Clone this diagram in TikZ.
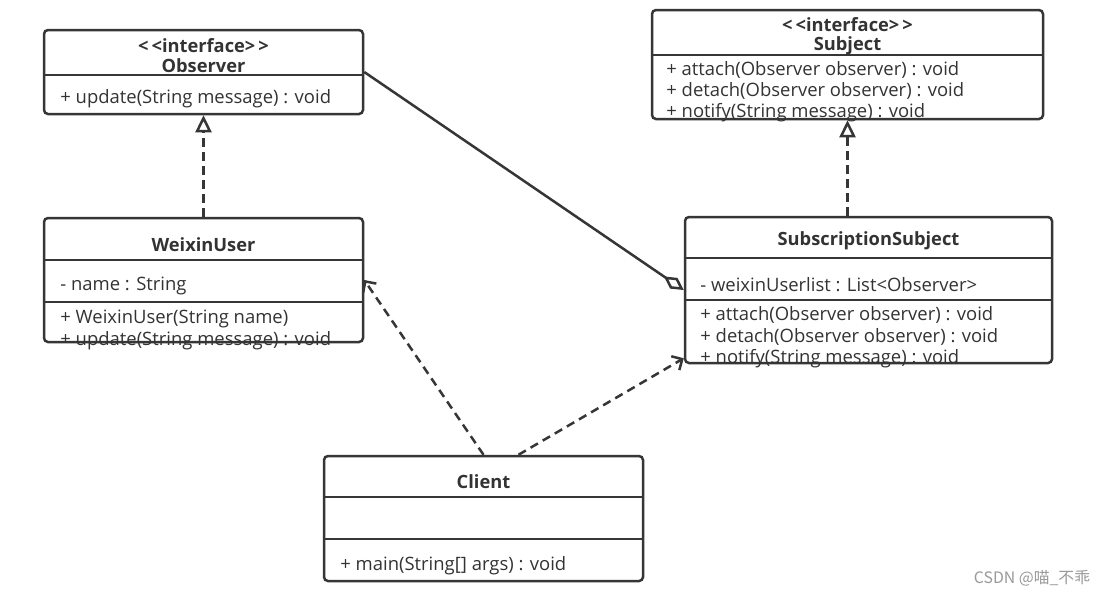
\documentclass[tikz,border=0pt]{standalone}
\usepackage{fontspec}
\setmainfont{Open Sans}
\newfontfamily\cjkfont{Noto Sans CJK SC}
\usetikzlibrary{arrows.meta}
\usetikzlibrary{fit}
\definecolor{umlink}{HTML}{363636}
\definecolor{umltext}{HTML}{333333}
\definecolor{markgray}{HTML}{9A9A9A}

\begin{document}
\begin{tikzpicture}[x=0.2mm, y=-0.2mm,
    umlbox/.style={draw=umlink, line width=0.5mm, rounded corners=0.8mm, inner sep=0pt},
    umlline/.style={draw=umlink, line width=0.5mm},
    title/.style={text=umltext, font=\fontsize{10.4}{12}\selectfont\bfseries, inner sep=0pt, yshift=-0.5mm},
    member/.style={text=umltext, font=\fontsize{10.5}{12}\selectfont, anchor=west, inner sep=0pt, yshift=-0.5mm},
    realize/.style={umlline, dash pattern=on 1.7mm off 1.1mm, -{Triangle[open, length=3.4mm, width=3.2mm]}},
    depend/.style={umlline, dash pattern=on 1.7mm off 1.1mm, -{Straight Barb[length=1.6mm, width=3.2mm]}},
    aggreg/.style={umlline, -{Diamond[open, length=4.8mm, width=2.6mm]}}]

    \useasboundingbox[fill=white] (0,0) rectangle (1106,595);

    % Observer
    \node[umlbox, fit={(44,30) (363,114)}] (observer) {};
    \node[title] (obsstereo) at (203.5,43) {<\,<interface>\,>};
    \node[title] (obsname) at (203.5,63) {Observer};
    \draw[umlline] (observer.west |- 0,75) -- (observer.east |- 0,75);
    \node[member] (obsop1) at (60,96) {+ update(String message) : void};

    % Subject
    \node[umlbox, fit={(652,10) (1043,119)}] (subject) {};
    \node[title] (subjstereo) at (847.5,22) {<\,<interface>\,>};
    \node[title] (subjname) at (847.5,43) {Subject};
    \draw[umlline] (subject.west |- 0,55) -- (subject.east |- 0,55);
    \node[member] (subjop1) at (666,67) {+ attach(Observer observer) : void};
    \node[member] (subjop2) at (666,88) {+ detach(Observer observer) : void};
    \node[member] (subjop3) at (666,110) {+ notify(String message) : void};

    % WeixinUser
    \node[umlbox, fit={(44,218) (363,342)}] (weixin) {};
    \node[title] (wxname) at (203.5,242) {WeixinUser};
    \draw[umlline] (weixin.west |- 0,260) -- (weixin.east |- 0,260);
    \node[member] (wxattr1) at (60,283) {- name : String};
    \draw[umlline] (weixin.west |- 0,302) -- (weixin.east |- 0,302);
    \node[member] (wxop1) at (60,316) {+ WeixinUser(String name)};
    \node[member] (wxop2) at (60,338) {+ update(String message) : void};

    % SubscriptionSubject
    \node[umlbox, fit={(685,217) (1052,363)}] (subsubj) {};
    \node[title] (ssname) at (868.5,238) {SubscriptionSubject};
    \draw[umlline] (subsubj.west |- 0,258) -- (subsubj.east |- 0,258);
    \node[member] (ssattr1) at (700,282) {- weixinUserlist : List<Observer>};
    \draw[umlline] (subsubj.west |- 0,300) -- (subsubj.east |- 0,300);
    \node[member] (ssop1) at (700,312) {+ attach(Observer observer) : void};
    \node[member] (ssop2) at (700,334) {+ detach(Observer observer) : void};
    \node[member] (ssop3) at (700,356) {+ notify(String message) : void};

    % Client
    \node[umlbox, fit={(324,456) (643,581)}] (client) {};
    \node[title] (clname) at (483.5,479) {Client};
    \draw[umlline] (client.west |- 0,497) -- (client.east |- 0,497);
    \draw[umlline] (client.west |- 0,539) -- (client.east |- 0,539);
    \node[member] (clop1) at (340,563) {+ main(String[] args) : void};

    % relations
    \draw[realize] (weixin.north) -- (observer.south);
    \draw[realize] (subsubj.north -| subject.south) -- (subject.south);
    \draw[aggreg] (observer.east) -- (subsubj.west);
    \draw[depend] (client.north) -- (weixin.east);
    \draw[depend] ([xshift=7mm]client.north) -- ([yshift=1.2mm]subsubj.south west);

    \node[text=markgray, font=\cjkfont\fontsize{9}{11}\selectfont, inner sep=0pt] (mark) at (1032,578) {CSDN @喵\_不乖};
\end{tikzpicture}
\end{document}
